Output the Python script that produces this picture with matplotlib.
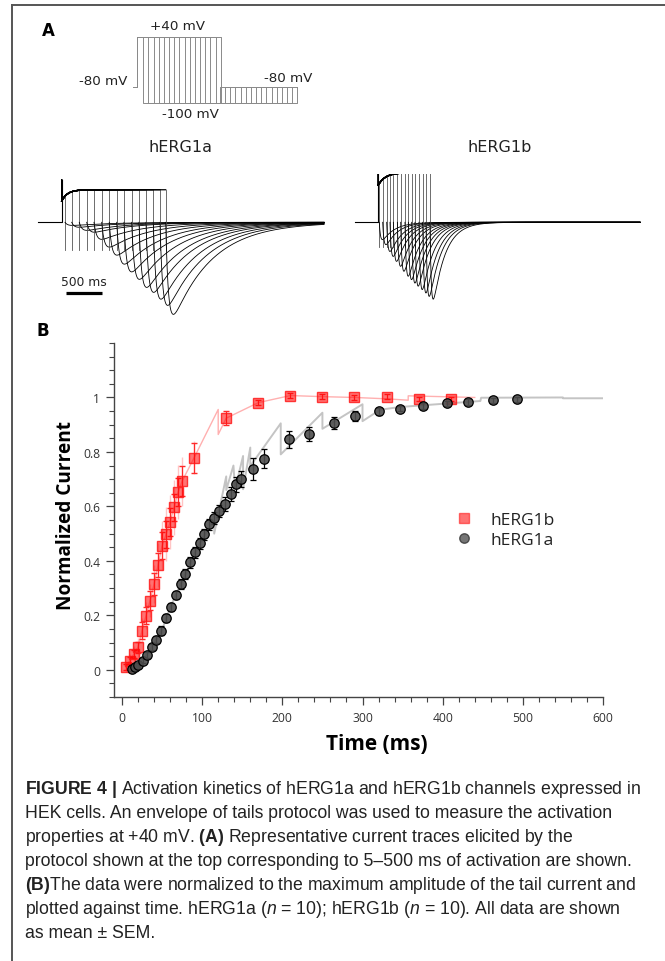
import numpy as np
import matplotlib
matplotlib.use("Agg")
import matplotlib.pyplot as plt
from matplotlib import font_manager as fm
from matplotlib.lines import Line2D

W, H = 665, 962

# ---- panel B data ----
b_t = [5, 10, 15, 20, 25, 30, 35, 40, 45, 50, 55, 60, 65, 70, 75, 90, 130, 170, 210, 250, 290, 330, 370, 410]
b_v = [0.01, 0.034, 0.059, 0.083, 0.144, 0.199, 0.254, 0.315, 0.385, 0.455, 0.498, 0.543, 0.596, 0.653,
       0.693, 0.779, 0.924, 0.981, 1.007, 1.003, 1.0, 1.003, 0.995, 0.995]
b_err = [0.01, 0.012, 0.015, 0.02, 0.03, 0.03, 0.035, 0.04, 0.045, 0.05, 0.05, 0.05, 0.05, 0.05,
         0.055, 0.055, 0.026, 0.01, 0.01, 0.008, 0.008, 0.008, 0.008, 0.008]
b_err_light = [0.02, 0.025, 0.03, 0.035, 0.045, 0.05, 0.06, 0.07, 0.08, 0.09, 0.1, 0.1, 0.1, 0.1, 0.09, 0.06]

a_t = [12, 16, 20, 26, 31, 37, 43, 49, 55, 61, 67, 73, 79, 85, 91, 97, 102, 108, 115, 121, 128, 136, 142, 149,
       163, 177, 208, 233, 264, 291, 321, 347, 376, 405, 432, 463, 493]
a_v = [0.004, 0.010, 0.018, 0.034, 0.055, 0.083, 0.111, 0.144, 0.189, 0.232, 0.275, 0.315, 0.352, 0.394,
       0.431, 0.465, 0.498, 0.535, 0.559, 0.584, 0.608, 0.645, 0.681, 0.700, 0.736, 0.775, 0.846, 0.867,
       0.907, 0.932, 0.949, 0.959, 0.968, 0.978, 0.983, 0.989, 0.993]
a_err = [0.008, 0.008, 0.01, 0.01, 0.01, 0.012, 0.012, 0.015, 0.015, 0.015, 0.015, 0.018, 0.018, 0.02,
         0.02, 0.02, 0.02, 0.02, 0.022, 0.022, 0.025, 0.025, 0.028, 0.03, 0.04, 0.035, 0.03, 0.026,
         0.022, 0.02, 0.012, 0.01, 0.01, 0.01, 0.01, 0.01, 0.01]

# envelope traces behind the means
env_b_t = [5, 10, 15, 20, 25, 30, 35, 40, 45, 50, 55, 60, 65, 70, 75, 90, 120, 120, 130, 170, 210, 250,
           290, 330, 357, 357, 440]
env_b_v = [0.01, 0.034, 0.059, 0.083, 0.144, 0.199, 0.254, 0.315, 0.385, 0.455, 0.498, 0.543, 0.596,
           0.653, 0.693, 0.779, 0.956, 0.864, 0.924, 0.981, 1.007, 1.003, 1.0, 0.995, 0.99, 1.006, 1.0]
env_a_t = [12, 20, 30, 40, 50, 60, 70, 80, 90, 100, 115, 115, 130, 130, 139, 141, 151, 151, 160, 160,
           198, 198, 250, 250, 300, 300, 322, 347, 447, 448, 550, 550, 600]
env_a_v = [0.004, 0.018, 0.052, 0.097, 0.147, 0.228, 0.295, 0.356, 0.425, 0.48, 0.55, 0.50, 0.71, 0.66,
           0.75, 0.663, 0.785, 0.663, 0.816, 0.748, 0.905, 0.791, 0.944, 0.885, 0.975, 0.913, 0.955,
           0.965, 0.987, 0.999, 1.0, 0.997, 0.997]

# ---- panel A protocol + representative traces ----
proto_steps = [40, 70, 101, 132, 163, 194, 225, 256, 287, 318, 349, 380, 411, 442, 473, 504]  # ms at +40
proto_tail = 460
hold_mv, step_mv, tail_mv = -80, 40, -100

trace_a_dur = [46, 140, 246, 350, 452, 560, 666, 770, 872, 980, 1082, 1180, 1282, 1376, 1456]
trace_a_peak = [0.1, 0.16, 0.26, 0.32, 0.55, 0.8, 1.06, 1.35, 1.6, 1.84, 2.1, 2.26, 2.48, 2.68, 2.97]
trace_b_dur = [14, 62, 118, 164, 211, 267, 314, 374, 421, 468, 514, 570, 622, 668, 724]
trace_b_peak = [0.56, 0.72, 0.94, 1.1, 1.26, 1.42, 1.58, 1.74, 1.85, 1.96, 2.06, 2.17, 2.28, 2.39, 2.48]

caption = [
    r"$\mathbf{FIGURE\ 4\ |}$ Activation kinetics of hERG1a and hERG1b channels expressed in",
    "HEK cells. An envelope of tails protocol was used to measure the activation",
    r"properties at +40 mV. $\mathbf{(A)}$ Representative current traces elicited by the",
    "protocol shown at the top corresponding to 5\u2013500 ms of activation are shown.",
    r"$\mathbf{(B)}$The data were normalized to the maximum amplitude of the tail current and",
    r"plotted against time. hERG1a ($n$ = 10); hERG1b ($n$ = 10). All data are shown",
    "as mean \u00b1 SEM.",
]

names = {f.name for f in fm.fontManager.ttflist}
if "Liberation Sans Narrow" in names:
    cap_font, cap_size = "Liberation Sans Narrow", 13.5
else:
    cap_font, cap_size = "Liberation Sans", 12.7
plt.rcParams["mathtext.fontset"] = "custom"
plt.rcParams["mathtext.rm"] = cap_font
plt.rcParams["mathtext.bf"] = cap_font + ":bold"
plt.rcParams["mathtext.it"] = cap_font + ":italic"

fig = plt.figure(figsize=(W / 100, H / 100), dpi=100)
fig.patch.set_facecolor("white")


def px_axes(x0, y0, x1, y1):
    return fig.add_axes([x0 / W, 1 - y1 / H, (x1 - x0) / W, (y1 - y0) / H])


def ftext(x, y, s, **kw):
    return fig.text(x / W, 1 - y / H, s, **kw)


# frame
fig.add_artist(Line2D([12 / W, 12 / W], [0, 1 - 6 / H], transform=fig.transFigure, color="#555555", lw=1.4))
fig.add_artist(Line2D([12 / W, 1], [1 - 6 / H, 1 - 6 / H], transform=fig.transFigure, color="#555555", lw=1.4))

ftext(48, 31, "A", fontsize=12, fontweight="bold", ha="center", va="center", family="DejaVu Sans")
ftext(43, 331, "B", fontsize=12, fontweight="bold", ha="center", va="center", family="DejaVu Sans")

# --- protocol sketch ---
axp = px_axes(120, 30, 320, 110)
axp.axis("off")
axp.set_xlim(0, 1200)
axp.set_ylim(110, 30)


def lvl(mv):
    return np.interp(mv, [-100, -80, 40], [104, 88, 37.7])


onset = 100
t_end = onset + proto_steps[-1] + proto_tail
for d in proto_steps:
    xs = [80, onset, onset, onset + d, onset + d, onset + d + proto_tail, onset + d + proto_tail, t_end]
    vs = [hold_mv, hold_mv, step_mv, step_mv, tail_mv, tail_mv, hold_mv, hold_mv]
    axp.plot(xs, lvl(np.array(vs)), color="#8a8a8a", lw=0.7)

ftext(177.5, 27, "+40 mV", fontsize=9.7, ha="center", va="center", color="#222222")
ftext(127.5, 82, "-80 mV", fontsize=9.7, ha="right", va="center", color="#222222")
ftext(288, 79, "-80 mV", fontsize=9.7, ha="center", va="center", color="#222222")
ftext(190, 115, "-100 mV", fontsize=9.7, ha="center", va="center", color="#222222")


# --- current traces ---
def draw_traces(ax, t0, t_on, t_stop, durs, peaks, plateau, relax, tau_act, tau_r, tau_d, spike):
    s_grid = np.linspace(0, t_stop, 3000)
    f = (1 - np.exp(-s_grid / tau_r)) * np.exp(-s_grid / tau_d)
    fmax = f.max()
    for d, a in zip(durs, peaks):
        s_out = np.linspace(0, d, 200)
        out = plateau * (1 - relax * np.exp(-s_out / tau_act))
        t_end_step = t_on + d
        s_tail = np.linspace(0, t_stop - t_end_step, 1500)
        tail = -a * (1 - np.exp(-s_tail / tau_r)) * np.exp(-s_tail / tau_d) / fmax
        ax.plot([t_on, t_on + 0.1], [plateau * 1.3, plateau * (1 - relax)], color="black", lw=0.6)
        ax.plot(t_on + s_out, out, color="black", lw=0.9)
        ax.plot([t_end_step, t_end_step], [out[-1], spike], color="#555555", lw=0.6)
        ax.plot(t_end_step + s_tail, tail, color="black", lw=0.6)
    ax.plot([t0, t_on, t_on], [0, 0, plateau * 1.3], color="black", lw=0.8)


axa = px_axes(30, 175, 330, 330)
axa.axis("off")
axa.set_xlim(0, 4200)
axa.set_ylim(-3.442, 1.558)
draw_traces(axa, 116, 444, 4116, trace_a_dur, trace_a_peak, 1.05, 0.35, 80, 40, 550, -0.9)
axa.plot([504, 1004], [-2.29, -2.29], color="black", lw=2.3, solid_capstyle="butt")
axa.text(754, -1.92, "500 ms", fontsize=8.8, ha="center", va="center", color="#222222")

axb = px_axes(345, 175, 645, 330)
axb.axis("off")
axb.set_xlim(0, 4200)
axb.set_ylim(-3.442, 1.558)
draw_traces(axb, 140, 466, 4130, trace_b_dur, trace_b_peak, 1.6, 0.25, 100, 20, 170, -0.8)

ftext(180, 148, "hERG1a", fontsize=11.5, ha="center", va="center", color="#222222")
ftext(500, 147, "hERG1b", fontsize=11.5, ha="center", va="center", color="#222222")

# --- panel B ---
ax = px_axes(114, 344, 603, 698)
ax.set_xlim(-10, 600)
ax.set_ylim(-0.1, 1.2)
for sp in ["top", "right"]:
    ax.spines[sp].set_visible(False)
for sp in ["left", "bottom"]:
    ax.spines[sp].set_color("#444444")
    ax.spines[sp].set_linewidth(1.0)
ax.set_xticks(np.arange(0, 601, 100))
ax.set_xticks(np.arange(0, 601, 20), minor=True)
ax.set_yticks([0, 0.2, 0.4, 0.6, 0.8, 1.0])
ax.set_yticklabels(["0", "0.2", "0.4", "0.6", "0.8", "1"])
ax.set_yticks(np.arange(-0.1, 1.201, 0.05), minor=True)
ax.tick_params(which="major", length=6, width=0.9, color="#444444", labelsize=8.7, labelcolor="#333333", pad=4)
ax.tick_params(which="minor", length=3.5, width=0.8, color="#444444")
for lab in ax.get_xticklabels() + ax.get_yticklabels():
    lab.set_family("Open Sans")

ax.plot(env_a_t, env_a_v, color="#c4c4c4", lw=1.4, zorder=1)
ax.plot(env_b_t, env_b_v, color="#ffb0b0", lw=1.0, zorder=1)
ax.errorbar(b_t[:16], b_v[:16], yerr=b_err_light, fmt="none", ecolor="#ff8080", alpha=0.45,
            elinewidth=1.0, zorder=1)

ax.errorbar(b_t, b_v, yerr=b_err, fmt="s", ms=7.8, mfc=(1, 0, 0, 0.55), mec=(1, 0.1, 0.1, 0.85),
            mew=1.0, ecolor="#ff2a2a", elinewidth=0.9, capsize=2.5, zorder=3)
ax.errorbar(a_t, a_v, yerr=a_err, fmt="o", ms=6.8, mfc=(0.3, 0.3, 0.3, 0.9), mec="black",
            mew=0.9, ecolor="black", elinewidth=0.9, capsize=2.5, zorder=4)

h1 = Line2D([], [], ls="none", marker="s", ms=7.5, mfc=(1, 0, 0, 0.55), mec=(1, 0.1, 0.1, 0.6))
h2 = Line2D([], [], ls="none", marker="o", ms=6.8, mfc=(0.4, 0.4, 0.4, 0.9), mec=(0.2, 0.2, 0.2, 0.8))
leg = ax.legend([h1, h2], ["hERG1b", "hERG1a"], loc="center left",
                bbox_to_anchor=((440 - 114) / 489, 1 - (531 - 344) / 354), frameon=False,
                handlelength=1.0, handletextpad=1.0, labelspacing=0.25,
                prop={"family": "Open Sans", "size": 12.5})
for t in leg.get_texts():
    t.set_color("#222222")

ax.set_xlabel("Time (ms)", fontsize=15, fontweight="bold", family="Open Sans")
ax.set_ylabel("Normalized Current", fontsize=13.7, fontweight="bold", family="Open Sans")
ax.xaxis.set_label_coords((377 - 114) / 489, -(734 - 698) / 354)
ax.yaxis.set_label_coords(-(114 - 76) / 489, 1 - (516 - 344) / 354)

# --- caption ---
for i, line in enumerate(caption):
    ftext(25, 790 + 24 * i, line, fontsize=cap_size, family=cap_font, ha="left", va="center", color="#222222")

fig.savefig("out.png", dpi=100)
